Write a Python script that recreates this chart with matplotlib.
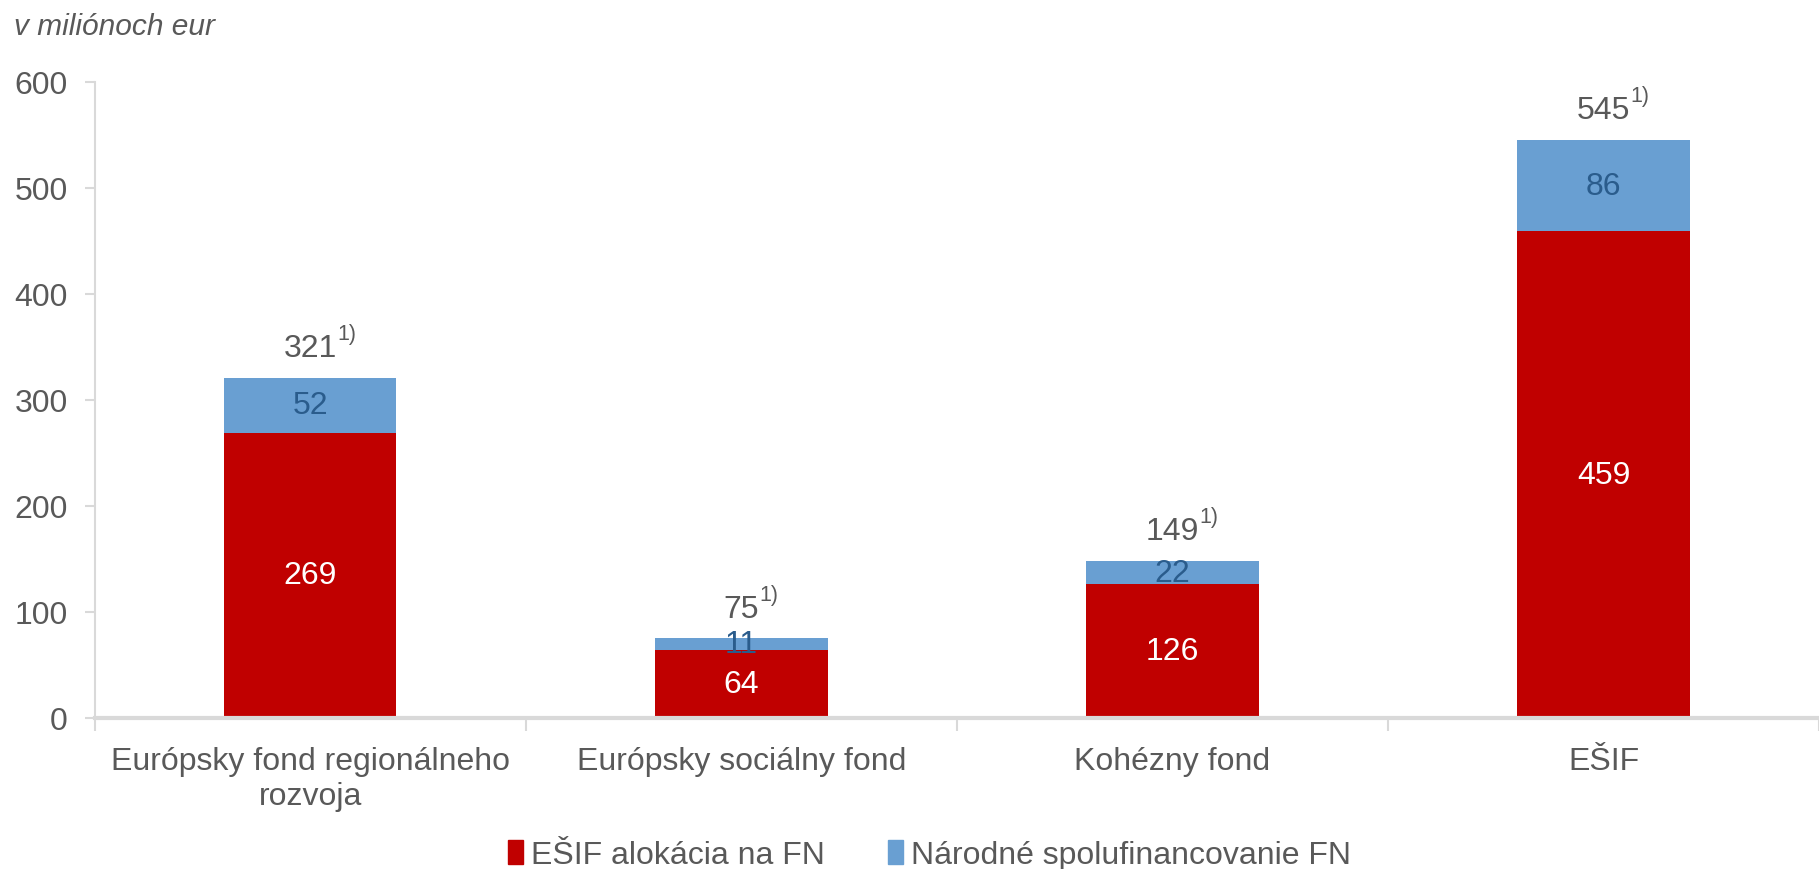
import matplotlib
matplotlib.use("Agg")
import matplotlib.pyplot as plt
import numpy as np
from matplotlib.patches import Patch

categories = ["Európsky fond regionálneho\nrozvoja", "Európsky sociálny fond", "Kohézny fond", "EŠIF"]
esif_alloc = [269, 64, 126, 459]
national = [52, 11, 22, 86]
totals = [321, 75, 149, 545]
yticks = [0, 100, 200, 300, 400, 500, 600]

RED = "#C00000"
BLUE = "#699FD2"
GREY = "#595959"
DARKBLUE = "#2A5C8C"
SPINE = "#D9D9D9"

plt.rcParams['font.family'] = ['Liberation Sans', 'DejaVu Sans']

fig = plt.figure(figsize=(18.19, 8.7), dpi=100)
left_px, bottom_px, top_px = 94.7, 719.0, 82.7
ax = fig.add_axes([left_px/1819, (870 - bottom_px)/870, 1 - left_px/1819, (bottom_px - top_px)/870])

x = np.arange(len(categories))
w = 0.4
ax.bar(x, esif_alloc, width=w, color=RED, label="EŠIF alokácia na FN", zorder=2)
ax.bar(x, national, width=w, bottom=esif_alloc, color=BLUE, label="Národné spolufinancovanie FN", zorder=2)

fs = 23
for i in range(len(categories)):
    ax.text(x[i], esif_alloc[i] / 2, str(esif_alloc[i]), ha='center', va='center',
            color='white', fontsize=fs, zorder=3)
    ax.text(x[i], esif_alloc[i] + national[i] / 2, str(national[i]), ha='center', va='center',
            color=DARKBLUE, fontsize=fs, zorder=3)
    t = ax.text(x[i], esif_alloc[i] + national[i] + 14, str(totals[i]), ha='center', va='bottom',
                color=GREY, fontsize=fs, zorder=3)
    ax.annotate("1)", xy=(1.0, 0.98), xycoords=t, ha='left', va='center',
                color=GREY, fontsize=15.5)

ax.set_xlim(-0.5, 3.476)
ax.set_ylim(0, 600)
ax.set_yticks(yticks)
ax.set_yticklabels([str(v) for v in yticks], fontsize=fs, color=GREY)
ax.set_xticks(x)
ax.set_xticklabels(categories, fontsize=fs, color=GREY, linespacing=1.22)
ax.set_xticks(np.arange(-0.5, 4.0, 1.0), minor=True)
ax.tick_params(axis='x', which='major', length=0, pad=20)
ax.tick_params(axis='x', which='minor', length=9, color=SPINE, width=1.5)
ax.tick_params(axis='y', length=7, color=SPINE, width=1.5, pad=12.5)

for s in ['top', 'right']:
    ax.spines[s].set_visible(False)
ax.spines['left'].set_color(SPINE)
ax.spines['left'].set_linewidth(1.5)
ax.spines['bottom'].set_color(SPINE)
ax.spines['bottom'].set_linewidth(3)
ax.spines['bottom'].set_zorder(4)

fig.text(14/1819, 1 - 27/870, "v miliónoch eur", fontsize=21.5, style='italic', color=GREY,
         ha='left', va='center')

handles = [Patch(color=RED), Patch(color=BLUE)]
fig.legend(handles, ["EŠIF alokácia na FN", "Národné spolufinancovanie FN"],
           loc='center', bbox_to_anchor=(0.5 + 20/1819, 1 - 856/870), ncol=2, frameon=False,
           fontsize=fs, labelcolor=GREY, handlelength=0.45, handleheight=0.75,
           handletextpad=0.25, columnspacing=2.0)

fig.savefig("out.png", dpi=100)
